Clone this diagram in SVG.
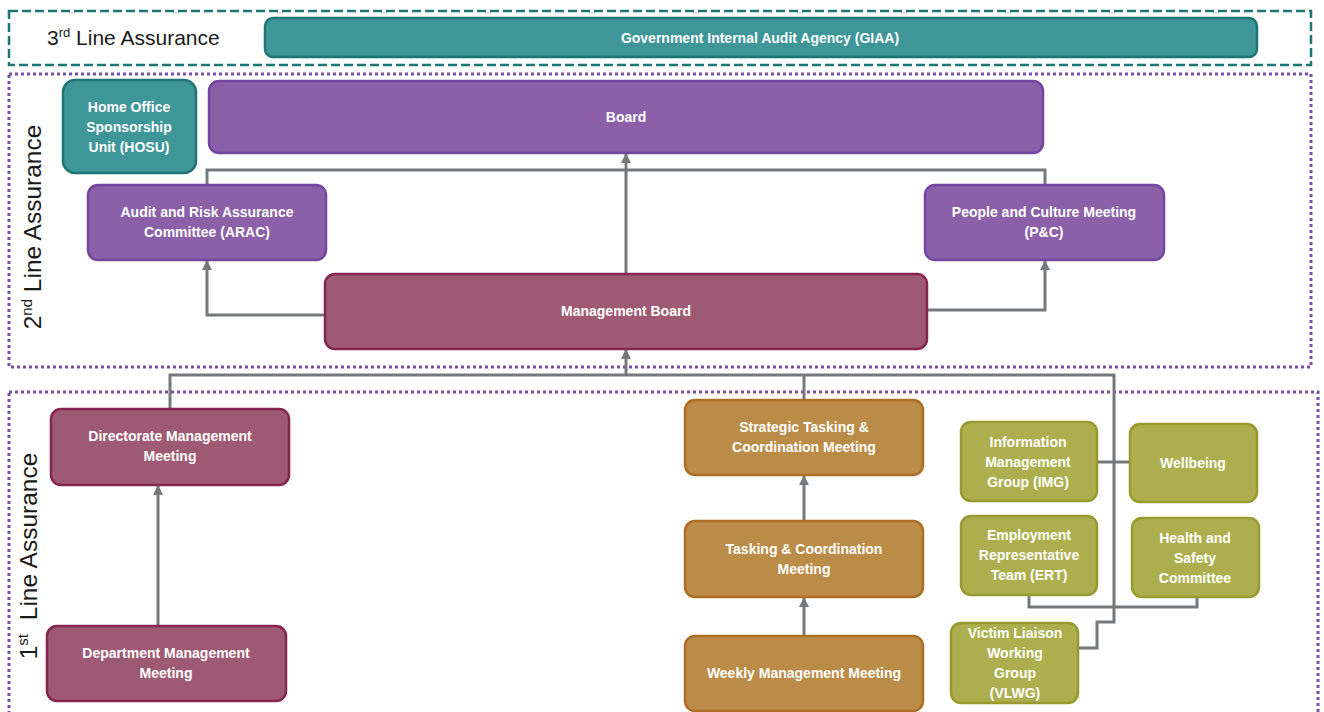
<svg xmlns="http://www.w3.org/2000/svg" width="1324" height="712" viewBox="0 0 1324 712">
<defs>
<marker id="arr" viewBox="0 0 10 10" refX="9" refY="5" markerWidth="10" markerHeight="10" markerUnits="userSpaceOnUse" orient="auto">
<path d="M0,0 L10,5 L0,10 z" fill="#76797b"/>
</marker>
<style>
.lbl{font-family:"Liberation Sans",Arial,sans-serif;font-size:21px;fill:#1a1a1a}
.vl{font-family:"Liberation Sans",Arial,sans-serif;font-size:24.5px;fill:#1a1a1a}
.t{font-family:"Liberation Sans",Arial,sans-serif;font-size:14px;font-weight:bold;fill:#ffffff;text-anchor:middle}
.teal{fill:#3e9698;stroke:#1d7674;stroke-width:2.5}
.purp{fill:#8b60a8;stroke:#7446a0;stroke-width:2.5}
.maroon{fill:#9e5a72;stroke:#86264f;stroke-width:2.5}
.orange{fill:#bb8c48;stroke:#ad6f25;stroke-width:2.5}
.olive{fill:#adaf4e;stroke:#989a30;stroke-width:2.5}
.c{fill:none;stroke:#76797b;stroke-width:3}
.ca{fill:none;stroke:#76797b;stroke-width:3;marker-end:url(#arr)}
.dot{fill:none;stroke:#7b4fa6;stroke-width:3;stroke-dasharray:3 3}
</style>
</defs>
<rect width="1324" height="712" fill="#ffffff"/>

<g id="zones">
<rect x="9" y="11" width="1302" height="54" fill="none" stroke="#1d7674" stroke-width="2.5" stroke-dasharray="9 4"/>
<rect x="9" y="74" width="1302" height="293" class="dot"/>
<rect x="9" y="392" width="1309" height="340" class="dot"/>
<text class="lbl" x="47" y="45">3<tspan font-size="13" dy="-8">rd</tspan><tspan dy="8"> Line Assurance</tspan></text>
<text class="vl" transform="translate(41,227) rotate(-90)" text-anchor="middle">2<tspan font-size="15" dy="-9">nd</tspan><tspan dy="9"> Line Assurance</tspan></text>
<text class="vl" transform="translate(37,556) rotate(-90)" text-anchor="middle">1<tspan font-size="15" dy="-9">st</tspan><tspan dy="9" dx="7"> Line Assurance</tspan></text>
</g>

<g id="connectors">
<path class="ca" d="M626,274 V154"/>
<path class="c" d="M207,185 V170 H1045 V185"/>
<path class="ca" d="M325,315 H207 V261"/>
<path class="ca" d="M927,310 H1045 V261"/>
<path class="ca" d="M626,375 V350"/>
<path class="c" d="M170,409 V375 H1114 V622 H1097 V648 H1078"/>
<path class="c" d="M804,400 V375"/>
<path class="c" d="M1097,462 H1130"/>
<path class="c" d="M1029,595 V607 H1197 V597"/>
<path class="ca" d="M158,626 V486"/>
<path class="ca" d="M804,521 V476"/>
<path class="ca" d="M804,636 V598"/>
</g>

<g id="giaa">
<rect class="teal" x="265" y="18" width="992" height="39" rx="8"/>
<text class="t" x="760" y="43">Government Internal Audit Agency (GIAA)</text>
</g>
<g id="hosu">
<rect class="teal" x="63" y="80" width="133" height="93" rx="12"/>
<text class="t" x="129" y="112">Home Office</text>
<text class="t" x="129" y="132">Sponsorship</text>
<text class="t" x="129" y="152">Unit (HOSU)</text>
</g>
<g id="board">
<rect class="purp" x="209" y="81" width="834" height="72" rx="10"/>
<text class="t" x="626" y="122">Board</text>
</g>
<g id="arac">
<rect class="purp" x="88" y="185" width="238" height="75" rx="10"/>
<text class="t" x="207" y="217">Audit and Risk Assurance</text>
<text class="t" x="207" y="237">Committee (ARAC)</text>
</g>
<g id="pc">
<rect class="purp" x="925" y="185" width="239" height="75" rx="10"/>
<text class="t" x="1044" y="217">People and Culture Meeting</text>
<text class="t" x="1044" y="237">(P&amp;C)</text>
</g>
<g id="mgmt-board">
<rect class="maroon" x="325" y="274" width="602" height="75" rx="10"/>
<text class="t" x="626" y="316">Management Board</text>
</g>
<g id="directorate">
<rect class="maroon" x="51" y="409" width="238" height="76" rx="10"/>
<text class="t" x="170" y="441">Directorate Management</text>
<text class="t" x="170" y="461">Meeting</text>
</g>
<g id="department">
<rect class="maroon" x="47" y="626" width="239" height="75" rx="10"/>
<text class="t" x="166" y="658">Department Management</text>
<text class="t" x="166" y="678">Meeting</text>
</g>
<g id="strategic">
<rect class="orange" x="685" y="400" width="238" height="75" rx="10"/>
<text class="t" x="804" y="432">Strategic Tasking &amp;</text>
<text class="t" x="804" y="452">Coordination Meeting</text>
</g>
<g id="tasking">
<rect class="orange" x="685" y="521" width="238" height="76" rx="10"/>
<text class="t" x="804" y="554">Tasking &amp; Coordination</text>
<text class="t" x="804" y="574">Meeting</text>
</g>
<g id="weekly">
<rect class="orange" x="685" y="636" width="238" height="75" rx="10"/>
<text class="t" x="804" y="678">Weekly Management Meeting</text>
</g>
<g id="img">
<rect class="olive" x="961" y="422" width="136" height="79" rx="10"/>
<text class="t" x="1028" y="447">Information</text>
<text class="t" x="1028" y="467">Management</text>
<text class="t" x="1028" y="487">Group (IMG)</text>
</g>
<g id="wellbeing">
<rect class="olive" x="1130" y="424" width="127" height="78" rx="10"/>
<text class="t" x="1193" y="468">Wellbeing</text>
</g>
<g id="ert">
<rect class="olive" x="961" y="516" width="136" height="79" rx="10"/>
<text class="t" x="1029" y="540">Employment</text>
<text class="t" x="1029" y="560">Representative</text>
<text class="t" x="1029" y="580">Team (ERT)</text>
</g>
<g id="hs">
<rect class="olive" x="1132" y="518" width="127" height="79" rx="10"/>
<text class="t" x="1195" y="543">Health and</text>
<text class="t" x="1195" y="563">Safety</text>
<text class="t" x="1195" y="583">Committee</text>
</g>
<g id="vlwg">
<rect class="olive" x="951" y="623" width="127" height="80" rx="10"/>
<text class="t" x="1015" y="638">Victim Liaison</text>
<text class="t" x="1015" y="658">Working</text>
<text class="t" x="1015" y="678">Group</text>
<text class="t" x="1015" y="698">(VLWG)</text>
</g>
</svg>
